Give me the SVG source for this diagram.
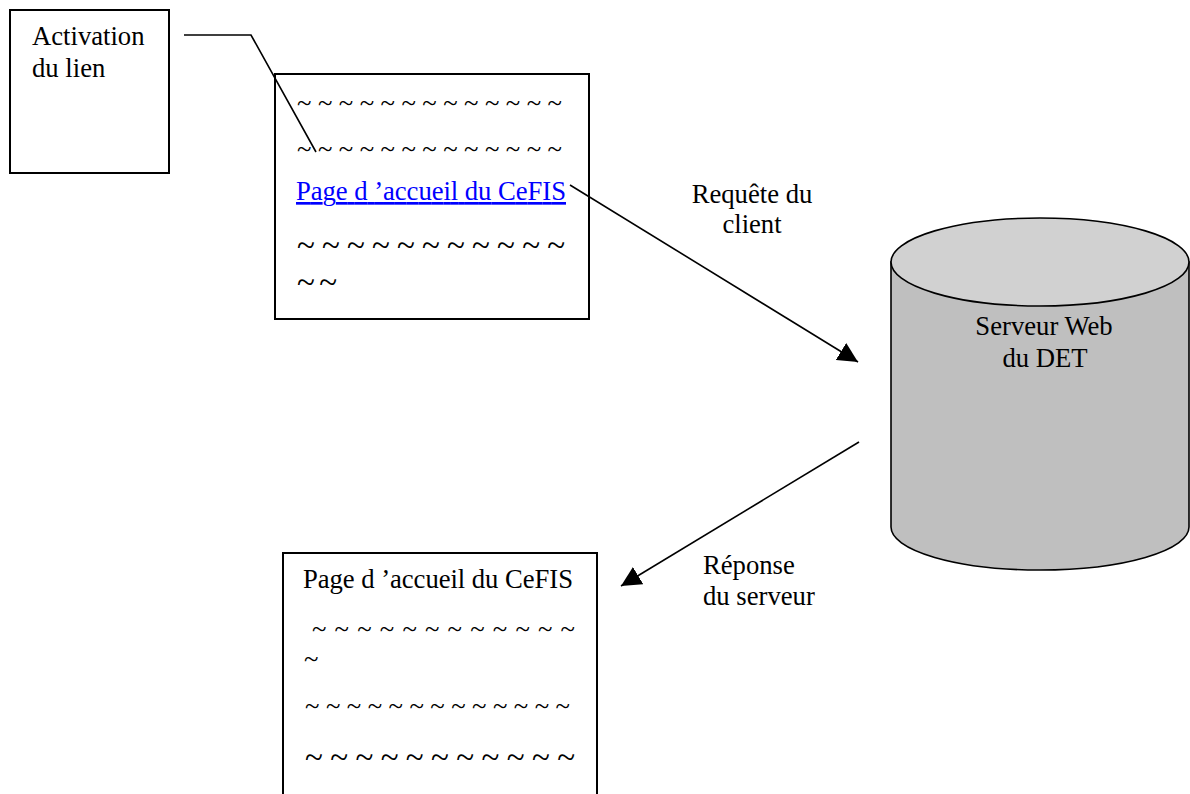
<svg xmlns="http://www.w3.org/2000/svg" width="1190" height="794" viewBox="0 0 1190 794">
<style>
  text { font-family: "Liberation Serif", "Times New Roman", serif; font-size: 26.67px; fill: #000; }
  .big { font-size: 33px; }
  .link { fill: #0000FF; text-decoration: underline; }
  .box { fill: #fff; stroke: #000; stroke-width: 2; }
  .conn { fill: none; stroke: #000; stroke-width: 1.6; }
  .mid { text-anchor: middle; }
</style>
<defs>
  <marker id="arrow" markerUnits="userSpaceOnUse" markerWidth="20" markerHeight="20" refX="20" refY="10" orient="auto" viewBox="0 0 20 20">
    <path d="M0,0 L20,10 L0,20 Z" fill="#000"/>
  </marker>
</defs>
<rect width="1190" height="794" fill="#fff"/>

<g id="activation">
  <rect class="box" x="10" y="10" width="159" height="163"/>
  <text x="32" y="45">Activation</text>
  <text x="32" y="77">du lien</text>
</g>

<g id="page-client">
  <rect class="box" x="275" y="74" width="314" height="245"/>
  <text x="297" y="112" textLength="265" lengthAdjust="spacing">~ ~ ~ ~ ~ ~ ~ ~ ~ ~ ~ ~ ~</text>
  <text x="297" y="158" textLength="265" lengthAdjust="spacing">~ ~ ~ ~ ~ ~ ~ ~ ~ ~ ~ ~ ~</text>
  <text class="link" x="296" y="200" textLength="270" lengthAdjust="spacing">Page d ’accueil du CeFIS</text>
  <text class="big" x="297" y="256" textLength="268" lengthAdjust="spacing">~ ~ ~ ~ ~ ~ ~ ~ ~ ~ ~</text>
  <text class="big" x="297" y="293" textLength="40" lengthAdjust="spacing">~ ~</text>
</g>

<g id="serveur">
  <path d="M891,262 V527 A149,43 0 0 0 1189,527 V262 Z" fill="#BFBFBF" stroke="#000" stroke-width="1.6"/>
  <ellipse cx="1040" cy="262" rx="149" ry="44" fill="#D1D1D1" stroke="#000" stroke-width="1.6"/>
  <text class="mid" x="1044" y="335">Serveur Web</text>
  <text class="mid" x="1045" y="367">du DET</text>
</g>

<g id="page-reponse">
  <rect class="box" x="283" y="553" width="314" height="260"/>
  <text x="303" y="588" textLength="270" lengthAdjust="spacing">Page d ’accueil du CeFIS</text>
  <text x="312" y="638" textLength="263" lengthAdjust="spacing">~ ~ ~ ~ ~ ~ ~ ~ ~ ~ ~ ~</text>
  <text x="304" y="668">~</text>
  <text x="305" y="715" textLength="265" lengthAdjust="spacing">~ ~ ~ ~ ~ ~ ~ ~ ~ ~ ~ ~ ~</text>
  <text class="big" x="305" y="768" textLength="270" lengthAdjust="spacing">~ ~ ~ ~ ~ ~ ~ ~ ~ ~ ~</text>
</g>

<g id="connectors">
  <polyline class="conn" points="184,35 251,35 316,152"/>
  <line class="conn" x1="570" y1="185" x2="858" y2="362" marker-end="url(#arrow)"/>
  <line class="conn" x1="859" y1="442" x2="621" y2="586" marker-end="url(#arrow)"/>
</g>

<g id="labels">
  <text class="mid" x="752" y="203">Requête du</text>
  <text class="mid" x="752" y="233">client</text>
  <text x="703" y="574">Réponse</text>
  <text x="703" y="605">du serveur</text>
</g>
</svg>
